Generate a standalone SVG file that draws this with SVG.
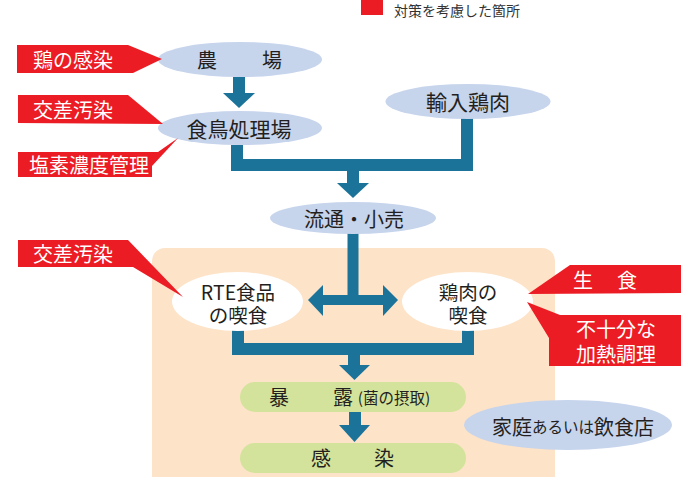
<svg xmlns="http://www.w3.org/2000/svg" width="681" height="477" viewBox="0 0 681 477">
<style>
text{font-family:"Noto Sans CJK JP","Noto Sans CJK SC",sans-serif;dominant-baseline:central;text-anchor:middle}
.n{fill:#c6d4ec}
.w{fill:#ffffff}
.g{fill:#d3e39b}
.t{fill:#231f20;font-size:20px}
.r{fill:#ec1c24}
.rt{fill:#ffffff;font-size:20px}
.c{fill:none;stroke:#1b7399;stroke-width:12;stroke-linejoin:miter}
.h{fill:#1b7399}
</style>
<rect x="0" y="0" width="681" height="477" fill="#ffffff"/>
<g id="legend">
<rect x="361" y="0" width="22" height="15" fill="#ec1c24"/>
<text x="457" y="10" style="font-size:14px;fill:#333">対策を考慮した箇所</text>
</g>
<rect id="home-area" x="152" y="248" width="403" height="240" rx="13" fill="#fde3c8"/>
<g id="connectors">
<line class="c" x1="239" y1="77" x2="239" y2="94"/>
<polygon class="h" points="223,93 255,93 239,108"/>
<polyline class="c" points="237,145 237,165 467,165 467,118"/>
<line class="c" x1="353" y1="165" x2="353" y2="184"/>
<polygon class="h" points="337,183 369,183 353,198"/>
<line class="c" x1="353" y1="233" x2="353" y2="300" style="stroke-width:11"/>
<line class="c" x1="320" y1="300" x2="386" y2="300" style="stroke-width:10"/>
<polygon class="h" points="308,300 323,285 323,316"/>
<polygon class="h" points="398,300 383,285 383,316"/>
<polyline class="c" points="238,330 238,349 468,349 468,330"/>
<line class="c" x1="354" y1="349" x2="354" y2="366"/>
<polygon class="h" points="339,365 370,365 354.5,380"/>
<line class="c" x1="355" y1="411" x2="355" y2="426"/>
<polygon class="h" points="339,425 370,425 354.5,442"/>
</g>
<g id="farm">
<ellipse class="n" cx="240" cy="59.5" rx="82" ry="17.5"/>
<text class="t" x="207" y="59">農</text>
<text class="t" x="272" y="59">場</text>
</g>
<g id="slaughter">
<ellipse class="n" cx="240" cy="128" rx="82" ry="17"/>
<text class="t" x="239" y="128" style="font-size:21px">食鳥処理場</text>
</g>
<g id="import">
<ellipse class="n" cx="468" cy="101.5" rx="82.5" ry="17.5"/>
<text class="t" x="468" y="101" style="font-size:21px">輸入鶏肉</text>
</g>
<g id="retail">
<ellipse class="n" cx="353" cy="218" rx="83" ry="16"/>
<text class="t" x="354" y="218">流通・小売</text>
</g>
<g id="rte">
<ellipse class="w" cx="237.5" cy="301.5" rx="65.5" ry="29.5"/>
<text class="t" style="font-size:19.5px"><tspan x="238" y="290.5">RTE食品</tspan><tspan x="238" y="313.5">の喫食</tspan></text>
</g>
<g id="chicken-eat">
<ellipse class="w" cx="467.5" cy="301.5" rx="65.5" ry="29.5"/>
<text class="t" style="font-size:19.5px"><tspan x="468" y="290.5">鶏肉の</tspan><tspan x="468" y="313.5">喫食</tspan></text>
</g>
<g id="exposure">
<rect class="g" x="240" y="382" width="226" height="30" rx="15"/>
<text class="t" x="279" y="396">暴</text>
<text class="t" x="343" y="396">露</text>
<text class="t" x="394" y="397" style="font-size:15.5px">(菌の摂取)</text>
</g>
<g id="infection">
<rect class="g" x="240" y="443" width="226" height="30" rx="15"/>
<text class="t" x="321" y="457">感</text>
<text class="t" x="384" y="457">染</text>
</g>
<g id="home">
<ellipse class="n" cx="568" cy="425" rx="104" ry="25"/>
<text x="573" y="426" style="fill:#231f20;font-size:20px">家庭<tspan style="font-size:15.5px">あるいは</tspan>飲食店</text>
</g>
<g id="note-infection">
<polygon class="r" points="17,45 128,45 162,59 133,73 17,73"/>
<text class="rt" x="73" y="59">鶏の感染</text>
</g>
<g id="note-cross1">
<polygon class="r" points="18,95 128,95 163,124 18,123"/>
<text class="rt" x="73" y="109">交差汚染</text>
</g>
<g id="note-chlorine">
<polygon class="r" points="18,152 158,152 178,138 152,166 152,177 18,177"/>
<text class="rt" x="89" y="164.5">塩素濃度管理</text>
</g>
<g id="note-cross2">
<polygon class="r" points="18,240 128,240 183,297 133,267 18,267"/>
<text class="rt" x="73" y="253">交差汚染</text>
</g>
<g id="note-raw">
<polygon class="r" points="570,265 681,265 681,293 528,294"/>
<text class="rt" x="583" y="279">生</text>
<text class="rt" x="627" y="279">食</text>
</g>
<g id="note-heating">
<polygon class="r" points="527,302 560,315 681,315 681,366 549,366 549,338"/>
<text class="rt" style="font-size:20px"><tspan x="616" y="328">不十分な</tspan><tspan x="616" y="353">加熱調理</tspan></text>
</g>
</svg>
